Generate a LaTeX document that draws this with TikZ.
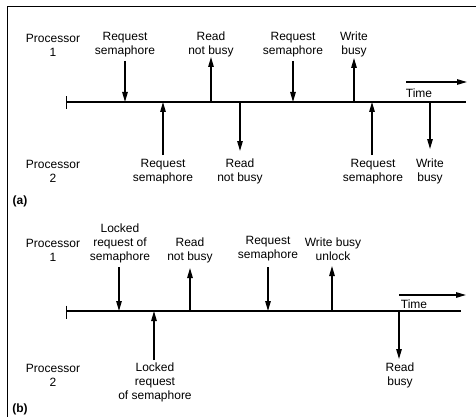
\documentclass[tikz,border=0pt]{standalone}
\usepackage{fontspec}
\setmainfont{Liberation Sans}
\usetikzlibrary{arrows.meta}
\begin{document}
\begin{tikzpicture}[x=1pt,y=-1pt,
  lbl/.style={align=center,inner sep=0pt,font=\fontsize{12}{13.8}\selectfont},
  tag/.style={inner sep=0pt,font=\fontsize{12}{13.8}\selectfont\bfseries},
  tline/.style={line width=1.6pt},
  evarrow/.style={line width=1.3pt,-{Triangle[length=10pt,width=5.5pt]}},
  frame/.style={line width=1.3pt}]
\useasboundingbox (0,0) rectangle (476,417);
% frame
\coordinate (fa) at (476,6.5);
\coordinate (fb) at (7.5,6.5);
\coordinate (fc) at (7.5,417);
\draw[frame] (fa) -- (fb) -- (fc);

% ===== (a) =====
\coordinate (a0) at (66.5,102);
\coordinate (a1) at (466,102);
\draw[tline] (a0) -- (a1);
\coordinate (at1) at (66.5,96.5);
\coordinate (at2) at (66.5,109.5);
\draw[line width=1.5pt] (at1) -- (at2);

\node[lbl] (ap1) at (53,45) {Processor\\1};
\node[lbl] (ap2) at (53,171.5) {Processor\\2};
\node[tag] (alab) at (20,201) {(a)};

\node[lbl] (ar1) at (125,44.5) {Request\\semaphore};
\coordinate (ar1s) at (125,61);
\coordinate (ar1e) at (125,102);
\draw[evarrow] (ar1s) -- (ar1e);

\node[lbl] (ar2) at (211,44) {Read\\not busy};
\coordinate (ar2s) at (211,102);
\coordinate (ar2e) at (211,57);
\draw[evarrow] (ar2s) -- (ar2e);

\node[lbl] (ar3) at (293,44.5) {Request\\semaphore};
\coordinate (ar3s) at (293,61);
\coordinate (ar3e) at (293,102);
\draw[evarrow] (ar3s) -- (ar3e);

\node[lbl] (ar4) at (354,44) {Write\\busy};
\coordinate (ar4s) at (354,102);
\coordinate (ar4e) at (354,58);
\draw[evarrow] (ar4s) -- (ar4e);

\node[lbl] (ab1) at (163,171.5) {Request\\semaphore};
\coordinate (ab1s) at (163,155);
\coordinate (ab1e) at (163,102);
\draw[evarrow] (ab1s) -- (ab1e);

\node[lbl] (ab2) at (240,171.5) {Read\\not busy};
\coordinate (ab2s) at (240,102);
\coordinate (ab2e) at (240,151);
\draw[evarrow] (ab2s) -- (ab2e);

\node[lbl] (ab3) at (373,171.5) {Request\\semaphore};
\coordinate (ab3s) at (372,155);
\coordinate (ab3e) at (372,102);
\draw[evarrow] (ab3s) -- (ab3e);

\node[lbl] (ab4) at (430,171.5) {Write\\busy};
\coordinate (ab4s) at (430,102);
\coordinate (ab4e) at (430,149);
\draw[evarrow] (ab4s) -- (ab4e);

\coordinate (atm1) at (406,82);
\coordinate (atm2) at (467,82);
\draw[evarrow] (atm1) -- (atm2);
\node[lbl] (atime) at (419,93) {Time};

% ===== (b) =====
\coordinate (b0) at (66.5,311);
\coordinate (b1) at (461,311);
\draw[tline] (b0) -- (b1);
\coordinate (bt1) at (66.5,305.5);
\coordinate (bt2) at (66.5,318.5);
\draw[line width=1.5pt] (bt1) -- (bt2);

\node[lbl] (bp1) at (53,250.5) {Processor\\1};
\node[lbl] (bp2) at (53,375.5) {Processor\\2};
\node[tag] (blab) at (20,409) {(b)};

\node[lbl] (br1) at (120,243.5) {Locked\\request of\\semaphore};
\coordinate (br1s) at (119,267);
\coordinate (br1e) at (119,311);
\draw[evarrow] (br1s) -- (br1e);

\node[lbl] (br2) at (190,250.5) {Read\\not busy};
\coordinate (br2s) at (190,311);
\coordinate (br2e) at (190,268);
\draw[evarrow] (br2s) -- (br2e);

\node[lbl] (br3) at (268,249) {Request\\semaphore};
\coordinate (br3s) at (268,267);
\coordinate (br3e) at (268,311);
\draw[evarrow] (br3s) -- (br3e);

\node[lbl] (br4) at (333,249) {Write busy\\unlock};
\coordinate (br4s) at (332,311);
\coordinate (br4e) at (332,266);
\draw[evarrow] (br4s) -- (br4e);

\node[lbl] (bb1) at (155,382.5) {Locked\\request\\of semaphore};
\coordinate (bb1s) at (154,360);
\coordinate (bb1e) at (154,311);
\draw[evarrow] (bb1s) -- (bb1e);

\node[lbl] (bb2) at (400,375.5) {Read\\busy};
\coordinate (bb2s) at (399,311);
\coordinate (bb2e) at (399,359);
\draw[evarrow] (bb2s) -- (bb2e);

\coordinate (btm1) at (399,295);
\coordinate (btm2) at (466,295);
\draw[evarrow] (btm1) -- (btm2);
\node[lbl] (btime) at (414,304) {Time};
\end{tikzpicture}
\end{document}
